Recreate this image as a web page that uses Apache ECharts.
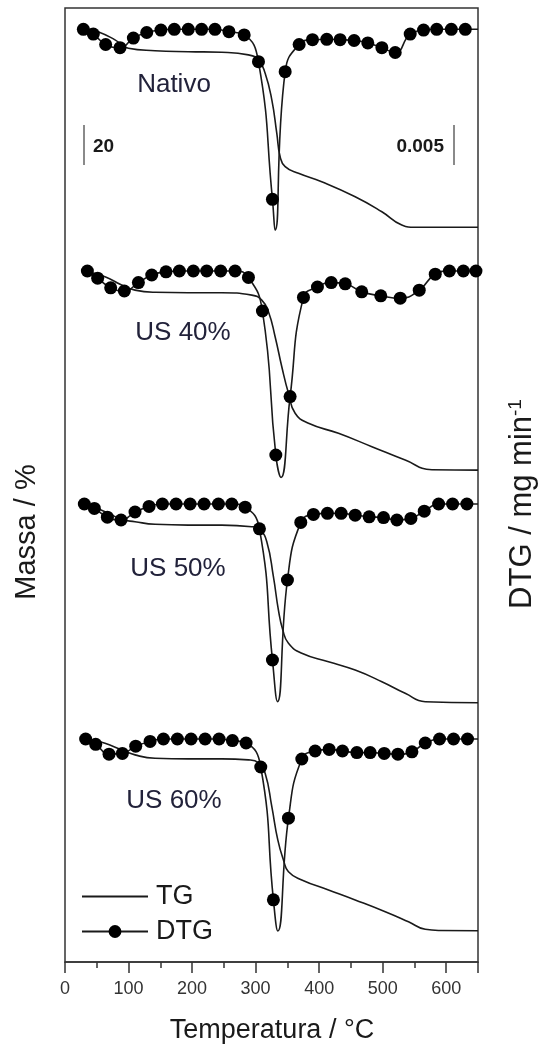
<!DOCTYPE html>
<html><head><meta charset="utf-8">
<script src="https://cdn.jsdelivr.net/npm/echarts@6/dist/echarts.min.js"></script>
<style>html,body{margin:0;padding:0;background:#fff}#c{width:540px;height:1052px}</style>
</head><body><div id="c"></div>
<script>
const FONT = '"Liberation Sans", Arial, sans-serif';

// ---------- data (temperature °C, mass %, DTG mg/min) ----------
const samples = ['Nativo', 'US 40%', 'US 50%', 'US 60%'];
const xTickLabels = ['0', '100', '200', '300', '400', '500', '600'];

const nativoTG = [[28.9,100],[52,98.3],[78.7,94.2],[99.7,90],[141.7,88.8],[194,88.3],[246.7,88],[288.7,86.7],[304.5,84.2],[315,77.5],[325.5,64.2],[333.3,47.6],[338.6,35.8],[346.5,30.8],[367.4,27.5],[404,23.3],[456.7,15.8],[498.7,8.3],[530,1.7],[551,0.5],[650,0.5]];
const nativoDTG = [[28.9,0],[44.6,-0.0006],[64,-0.0019],[86.6,-0.0023],[107.6,-0.0011],[128.6,-0.0004],[151,-0.0001],[172,0],[194,0],[215,0],[236,0],[258,-0.0003],[282,-0.0007],[304.5,-0.00405],[326.5,-0.02125],[346.5,-0.0053],[368.5,-0.0019],[389.5,-0.0013],[412,-0.00125],[433,-0.0013],[455,-0.0014],[476.6,-0.0017],[498.7,-0.0023],[519.7,-0.0029],[543.3,-0.0006],[564.3,-0.0001],[585,0],[608,0],[630,0]];
const nativoDTGpeak = [[330.7,-0.0251],[650,0]];

const us40TG = [[35.2,100],[63,97.5],[89.2,93.3],[110.2,90.8],[141.7,89.7],[194,89.5],[246.7,89.5],[294,88.3],[309.7,85.8],[320.2,80],[330.7,67.5],[341.2,52.5],[351.7,39.2],[362.2,29.2],[383.2,24.2],[430.4,19.2],[483,12.5],[535.4,5.8],[577.5,1],[650,0.8]];
const us40DTG = [[35.2,0],[51.4,-0.0009],[71.9,-0.0021],[93.4,-0.0025],[115.5,-0.00145],[136.5,-0.0005],[159,-0.0001],[180,0],[202,0],[223,0],[245,0],[267.7,0],[288.7,-0.0008],[310.7,-0.005],[331.8,-0.023],[354.3,-0.0157],[375.3,-0.0033],[397.3,-0.002],[419,-0.00145],[441,-0.0016],[467,-0.0026],[497,-0.0031],[527.6,-0.0034],[557.5,-0.0024],[582.7,-0.0004],[605,0],[627,0],[646.8,0]];
const us40DTGpeak = [[340,-0.0258],[650,0]];

const us50TG = [[30.4,100],[63,95.5],[89.2,91.7],[110.2,90.5],[141.7,89.2],[194,88.8],[246.7,88.8],[294,88],[307,86.3],[317.6,80.5],[328,63],[335.9,46.3],[342.8,36.3],[351.7,29.7],[372.7,24.7],[414.7,20.5],[456.7,16.3],[498.7,10.5],[535.4,4.7],[567,0.5],[650,0]];
const us50DTG = [[30.4,0],[46.2,-0.00055],[66.7,-0.00165],[88.2,-0.002],[110.2,-0.001],[132.3,-0.0003],[153.3,0],[174.8,0],[196.9,0],[218.9,0],[241.5,0],[262.5,0],[283.5,-0.0004],[306,-0.0031],[326.5,-0.0195],[350.1,-0.0095],[371.1,-0.0023],[391,-0.0013],[413,-0.00117],[434.6,-0.00117],[456.7,-0.0014],[478.7,-0.0016],[501.3,-0.0017],[522.3,-0.002],[544.4,-0.0018],[565.4,-0.0009],[588,0],[610,0],[632.5,0]];
const us50DTGpeak = [[334.4,-0.0247],[650,0]];

const us60TG = [[32.5,100],[63,97.5],[89.2,94.2],[110.2,91.7],[141.7,90],[194,89.7],[246.7,89.7],[288.7,89.2],[304.5,87.8],[315,82.5],[325.5,65.8],[334.9,49.2],[343.8,39.2],[351.7,33.3],[372.7,29.2],[414.7,24.2],[456.7,19.2],[504,13.3],[540.6,8.3],[567,4.5],[590,3.9],[650,3.8]];
const us60DTG = [[32.5,0],[48.3,-0.00066],[69.3,-0.0019],[90.3,-0.0018],[111.3,-0.0009],[133.9,-0.0003],[154.9,0],[176.9,0],[198.4,0],[220.5,0],[242.5,0],[263.5,-0.0002],[285,-0.0005],[308.1,-0.0035],[328,-0.0201],[351.7,-0.0099],[372.7,-0.0025],[393.7,-0.0015],[415.7,-0.0013],[436.7,-0.0015],[459.3,-0.0017],[480.3,-0.0017],[502.4,-0.0018],[523.9,-0.0019],[546,-0.0016],[567,-0.0005],[589.5,0],[611.5,0],[633.5,0]];
const us60DTGpeak = [[334.9,-0.024],[650,0]];

const tgSets = [nativoTG, us40TG, us50TG, us60TG];
const dtgSets = [nativoDTG, us40DTG, us50DTG, us60DTG];
const dtgPeakSets = [nativoDTGpeak, us40DTGpeak, us50DTGpeak, us60DTGpeak];

// ---------- layout ----------
const W = 540, H = 1052;
const G = {left: 65, right: 62, top: 8, bottom: 90};
const plotH = H - G.top - G.bottom;
const yBottom = G.top + plotH;
const TG_PX = 2;        // px per % (20 % bar = 40 px)
const DTG_PX = 8000;    // px per mg/min (0.005 bar = 40 px)
const tgStartPx = [28.3, 271.7, 502.7, 738.3];   // pixel row where 100 % sits
const dtgZeroPx = [29.3, 271, 504, 739];         // pixel row where DTG = 0 sits
const labelPos = [[174, 85], [183, 333], [178, 569], [174, 801]];
const INK = '#1a1a1a';

const yAxes = [];
const series = [];
samples.forEach((s, i) => {
  const tgMin = 100 - (yBottom - tgStartPx[i]) / TG_PX;
  yAxes.push({type: 'value', show: false, min: tgMin, max: tgMin + plotH / TG_PX});
  const dMin = -(yBottom - dtgZeroPx[i]) / DTG_PX;
  yAxes.push({type: 'value', show: false, min: dMin, max: dMin + plotH / DTG_PX});

  series.push({
    name: 'TG', type: 'line', yAxisIndex: 2 * i, data: tgSets[i],
    smooth: 0.5, showSymbol: false, symbol: 'none',
    lineStyle: {color: INK, width: 1.6}, itemStyle: {color: INK}, z: 2
  });
  const merged = dtgSets[i].map(p => ({value: p}))
    .concat(dtgPeakSets[i].map(p => ({value: p, symbol: 'none'})))
    .sort((a, b) => a.value[0] - b.value[0]);
  series.push({
    name: 'DTG', type: 'line', yAxisIndex: 2 * i + 1, data: merged,
    smooth: 0.5, symbol: 'circle', symbolSize: 13, showAllSymbol: true,
    lineStyle: {color: INK, width: 1.6}, itemStyle: {color: '#000'}, z: 3
  });
});

const graphics = [
  // scale bars
  {type: 'line', shape: {x1: 84, y1: 125, x2: 84, y2: 165}, style: {stroke: '#8a8a8a', lineWidth: 2}},
  {type: 'text', x: 93, y: 147, style: {text: '20', fill: INK, font: 'bold 19px ' + FONT, align: 'left', verticalAlign: 'middle'}},
  {type: 'line', shape: {x1: 454, y1: 125, x2: 454, y2: 165}, style: {stroke: '#8a8a8a', lineWidth: 2}},
  {type: 'text', x: 444, y: 147, style: {text: '0.005', fill: INK, font: 'bold 19px ' + FONT, align: 'right', verticalAlign: 'middle'}},
  // axis titles
  {type: 'text', x: 272, y: 1031, style: {text: 'Temperatura / °C', fill: INK, font: '27px ' + FONT, align: 'center', verticalAlign: 'middle'}},
  {type: 'text', x: 27, y: 532, rotation: Math.PI / 2, style: {text: 'Massa / %', fill: INK, font: '29px ' + FONT, align: 'center', verticalAlign: 'middle'}},
  {type: 'text', x: 522, y: 504, rotation: Math.PI / 2, style: {
    text: '{a|DTG / mg min}{s|-1}', align: 'center', verticalAlign: 'middle',
    rich: {a: {fontSize: 31, fontFamily: FONT, fill: INK, color: INK},
           s: {fontSize: 19, fontFamily: FONT, fill: INK, color: INK, verticalAlign: 'top', padding: [0, 0, 11, 0]}}
  }}
];
samples.forEach((s, i) => {
  graphics.push({type: 'text', x: labelPos[i][0], y: labelPos[i][1],
    style: {text: s, fill: '#22223a', font: '26px ' + FONT, align: 'center', verticalAlign: 'middle'}});
});

const chart = echarts.init(document.getElementById('c'), null, {renderer: 'canvas'});
chart.setOption({
  animation: false,
  backgroundColor: '#fff',
  grid: {left: G.left, right: G.right, top: G.top, bottom: G.bottom, show: true, borderColor: '#333', borderWidth: 1.5},
  legend: {
    data: [
      {name: 'TG', itemStyle: {color: 'rgba(0,0,0,0)', borderColor: 'rgba(0,0,0,0)', borderWidth: 0}},
      {name: 'DTG'}
    ],
    orient: 'vertical', left: 76, top: 878,
    itemWidth: 66, itemHeight: 16, itemGap: 8, selectedMode: false,
    textStyle: {fontSize: 27, color: INK, fontFamily: FONT, padding: [0, 0, 0, 3]}
  },
  xAxis: {
    type: 'value', min: 0, max: 650, interval: 100,
    axisLine: {show: true, onZero: false, lineStyle: {color: '#333', width: 1.5}},
    axisTick: {show: true, inside: false, length: 11, lineStyle: {color: '#333', width: 1.5}},
    minorTick: {show: true, splitNumber: 2, length: 6, lineStyle: {color: '#333', width: 1.5}},
    splitLine: {show: false},
    axisLabel: {
      fontSize: 18, color: '#333', fontFamily: FONT, margin: 18,
      formatter: v => { const k = xTickLabels.indexOf(String(v)); return k >= 0 ? xTickLabels[k] : ''; }
    }
  },
  yAxis: yAxes,
  series: series,
  graphic: graphics
});
</script></body></html>
